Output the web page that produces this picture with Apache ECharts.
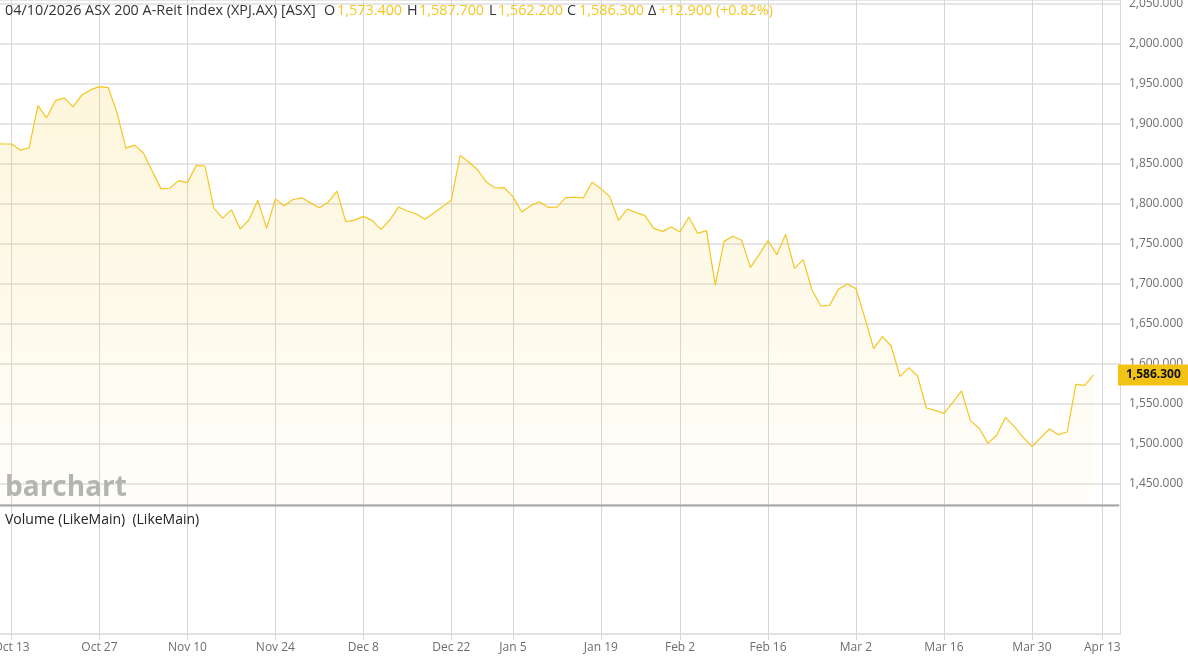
<!DOCTYPE html>
<html><head><meta charset="utf-8">
<script src="https://cdn.jsdelivr.net/npm/echarts@6/dist/echarts.min.js"></script>
<style>html,body{margin:0;padding:0;background:#fff;}#c{width:1188px;height:661px;}</style>
</head><body><div id="c"></div>
<script>
// ---- data ----
const dates = [
 '2025-10-09','2025-10-10','2025-10-13','2025-10-14','2025-10-15','2025-10-16','2025-10-17','2025-10-20','2025-10-21','2025-10-22','2025-10-23','2025-10-24','2025-10-27','2025-10-28','2025-10-29','2025-10-30','2025-10-31',
 '2025-11-03','2025-11-04','2025-11-05','2025-11-06','2025-11-07','2025-11-10','2025-11-11','2025-11-12','2025-11-13','2025-11-14','2025-11-17','2025-11-18','2025-11-19','2025-11-20','2025-11-21','2025-11-24','2025-11-25','2025-11-26','2025-11-27','2025-11-28',
 '2025-12-01','2025-12-02','2025-12-03','2025-12-04','2025-12-05','2025-12-08','2025-12-09','2025-12-10','2025-12-11','2025-12-12','2025-12-15','2025-12-16','2025-12-17','2025-12-18','2025-12-19','2025-12-22','2025-12-23','2025-12-24','2025-12-29','2025-12-30','2025-12-31',
 '2026-01-02','2026-01-05','2026-01-06','2026-01-07','2026-01-08','2026-01-09','2026-01-12','2026-01-13','2026-01-14','2026-01-15','2026-01-16','2026-01-19','2026-01-20','2026-01-21','2026-01-22','2026-01-23','2026-01-27','2026-01-28','2026-01-29','2026-01-30',
 '2026-02-02','2026-02-03','2026-02-04','2026-02-05','2026-02-06','2026-02-09','2026-02-10','2026-02-11','2026-02-12','2026-02-13','2026-02-16','2026-02-17','2026-02-18','2026-02-19','2026-02-20','2026-02-23','2026-02-24','2026-02-25','2026-02-26','2026-02-27',
 '2026-03-02','2026-03-03','2026-03-04','2026-03-05','2026-03-06','2026-03-09','2026-03-10','2026-03-11','2026-03-12','2026-03-13','2026-03-16','2026-03-17','2026-03-18','2026-03-19','2026-03-20','2026-03-23','2026-03-24','2026-03-25','2026-03-26','2026-03-27','2026-03-30','2026-03-31',
 '2026-04-01','2026-04-02','2026-04-07','2026-04-08','2026-04-09','2026-04-10'
];
const futureDates = ['2026-04-13','2026-04-14','2026-04-15'];
const closes = [
 1876,1875,1875,1867.4,1870.3,1923,1907.7,1929.3,1932.6,1921.4,1936.3,1942.9,1946.7,1945.4,1913.9,1869.9,1873.6,
 1863.7,1840.9,1818.9,1819.7,1829.2,1826.7,1848.3,1847.5,1794.8,1782.3,1792.7,1768.6,1780.3,1804.8,1769.9,1806.4,1797.7,1805.6,1807.7,1801.4,
 1795.2,1802.3,1816.0,1777.8,1779.9,1784.5,1779.2,1768.3,1780.0,1796.2,1791.2,1787.5,1780.8,1788.7,1796.7,1805.0,1860.8,1852.1,1842.5,1827.1,1820.0,
 1820.4,1809.2,1790.0,1797.9,1802.9,1795.8,1796.2,1807.9,1808.7,1807.5,1827.1,1819.2,1809.2,1779.6,1793.7,1789.2,1785.4,1769.6,1765.8,1771.2,
 1765.0,1783.7,1763.3,1766.7,1698.7,1753.3,1759.6,1754.6,1720.8,1737.1,1754.2,1736.7,1762.1,1719.6,1730.4,1692.5,1672.5,1673.3,1693.3,1700.0,
 1694.2,1657.9,1619.2,1634.2,1622.5,1584.6,1595.4,1585.0,1545.0,1542.1,1538.3,1552.1,1566.3,1529.2,1519.6,1500.8,1511.3,1533.3,1521.7,1508.3,1496.7,1507.9,
 1518.8,1511.7,1515.0,1574.6,1573.4,1586.3
];
const tickDates = ['2025-10-13','2025-10-27','2025-11-10','2025-11-24','2025-12-08','2025-12-22','2026-01-05','2026-01-19','2026-02-02','2026-02-16','2026-03-02','2026-03-16','2026-03-30','2026-04-13'];
const tickLabels = ['Oct 13','Oct 27','Nov 10','Nov 24','Dec 8','Dec 22','Jan 5','Jan 19','Feb 2','Feb 16','Mar 2','Mar 16','Mar 30','Apr 13'];
const headerTitle = '04/10/2026 ASX 200 A-Reit Index (XPJ.AX) [ASX]';
const headerKeys = ['O', 'H', 'L', 'C', 'Δ'];
const headerValues = ['1,573.400', '1,587.700', '1,562.200', '1,586.300', '+12.900 (+0.82%)'];
const lastClose = 1586.3;
const yMin = 1423.75, yMax = 2055;

// ---- layout (positions, not data) ----
const headerKeyX = [324, 407, 489, 567, 648];
const headerValX = [337, 419, 498, 579, 659];

// ---- chart ----
const allDates = dates.concat(futureDates);
const labelMap = {};
tickDates.forEach((d, i) => { labelMap[d] = tickLabels[i]; });
const isTick = (idx, val) => labelMap[val] !== undefined;
const fmt3 = v => v.toLocaleString('en-US', {minimumFractionDigits: 3, maximumFractionDigits: 3});
const GOLD = '#f4c622';
const FONT = '"Open Sans", "Noto Sans", sans-serif';
const gridLeft = -6.09, gridWidth = 1126;
const HFS = 14.4;

const titles = [
  {left: 5, top: 4, padding: 0, text: headerTitle,
   textStyle: {color: '#333', fontSize: HFS, fontWeight: 'normal', fontFamily: FONT}}
];
headerKeys.forEach((k, i) => {
  titles.push({left: headerKeyX[i], top: 4, padding: 0, text: k,
    textStyle: {color: '#333', fontSize: HFS, fontWeight: 'normal', fontFamily: FONT}});
  titles.push({left: headerValX[i], top: 4, padding: 0, text: headerValues[i],
    textStyle: {color: GOLD, fontSize: HFS, fontWeight: 'normal', fontFamily: FONT}});
});
titles.push({left: 5, top: 474, padding: 0, text: 'barchart',
  textStyle: {color: '#b4b4b4', fontSize: 28, fontWeight: 'bold', fontFamily: FONT}});
titles.push({left: 5, top: 513, padding: 0, text: 'Volume (LikeMain)  (LikeMain)',
  textStyle: {color: '#222', fontSize: 14, fontWeight: 'normal', fontFamily: FONT}});

const chart = echarts.init(document.getElementById('c'), null, {renderer: 'canvas'});
chart.setOption({
  animation: false,
  backgroundColor: '#fff',
  textStyle: {fontFamily: FONT},
  title: titles,
  grid: [
    {left: gridLeft, top: 0, width: gridWidth, height: 505, containLabel: false, outerBoundsMode: 'none'},
    {left: gridLeft, top: 506, width: gridWidth, height: 128, containLabel: false, outerBoundsMode: 'none'}
  ],
  xAxis: [
    {
      type: 'category', gridIndex: 0, data: allDates, boundaryGap: false,
      axisLine: {show: false}, axisTick: {show: false}, axisLabel: {show: false},
      splitLine: {show: true, interval: isTick, lineStyle: {color: '#d6d6d6', width: 1}}
    },
    {
      type: 'category', gridIndex: 1, data: allDates, boundaryGap: false,
      axisLine: {show: true, lineStyle: {color: '#e2e2e2', width: 2}},
      axisTick: {show: true, interval: isTick, length: 6, lineStyle: {color: '#d6d6d6'}},
      axisLabel: {show: true, interval: isTick, formatter: v => labelMap[v] || '', color: '#6e6e6e', fontSize: 12, margin: 8, fontFamily: FONT},
      splitLine: {show: true, interval: isTick, lineStyle: {color: '#d6d6d6', width: 1}}
    }
  ],
  yAxis: [
    {
      type: 'value', gridIndex: 0, position: 'right', min: yMin, max: yMax, splitNumber: 12,
      axisLine: {show: true, lineStyle: {color: '#d9d9d9', width: 1}},
      axisTick: {show: false},
      splitLine: {show: true, lineStyle: {color: '#e6e6e6', width: 2}},
      axisLabel: {margin: 9, color: '#6e6e6e', fontSize: 12, fontFamily: FONT,
        formatter: v => (Math.abs(v % 50) < 1e-6 ? fmt3(v) : '')}
    },
    {
      type: 'value', gridIndex: 1, position: 'right',
      axisLine: {show: true, lineStyle: {color: '#d9d9d9', width: 1}},
      axisTick: {show: false}, axisLabel: {show: false}, splitLine: {show: false}
    }
  ],
  graphic: [
    {type: 'line', shape: {x1: 0, y1: 505.5, x2: 1119, y2: 505.5}, style: {stroke: '#a6a6a6', lineWidth: 2}, z: 10}
  ],
  series: [
    {
      type: 'line', xAxisIndex: 0, yAxisIndex: 0, data: closes,
      symbol: 'none', smooth: false, clip: true,
      lineStyle: {color: GOLD, width: 1.2},
      areaStyle: {
        origin: yMin,
        color: new echarts.graphic.LinearGradient(0, 0, 0, 1, [
          {offset: 0, color: 'rgba(245,200,35,0.23)'},
          {offset: 1, color: 'rgba(245,200,35,0.03)'}
        ])
      },
      markLine: {
        silent: true, symbol: 'none', animation: false,
        lineStyle: {color: 'rgba(0,0,0,0)', width: 0, type: 'solid'},
        label: {
          show: true, position: 'end', distance: -2,
          formatter: () => fmt3(lastClose),
          backgroundColor: '#f2c314', color: '#111', fontWeight: 'bold', fontSize: 12,
          fontFamily: FONT, padding: [5, 8, 4, 8], opacity: 1
        },
        emphasis: {disabled: true},
        data: [{yAxis: lastClose}]
      }
    }
  ]
});
</script></body></html>
